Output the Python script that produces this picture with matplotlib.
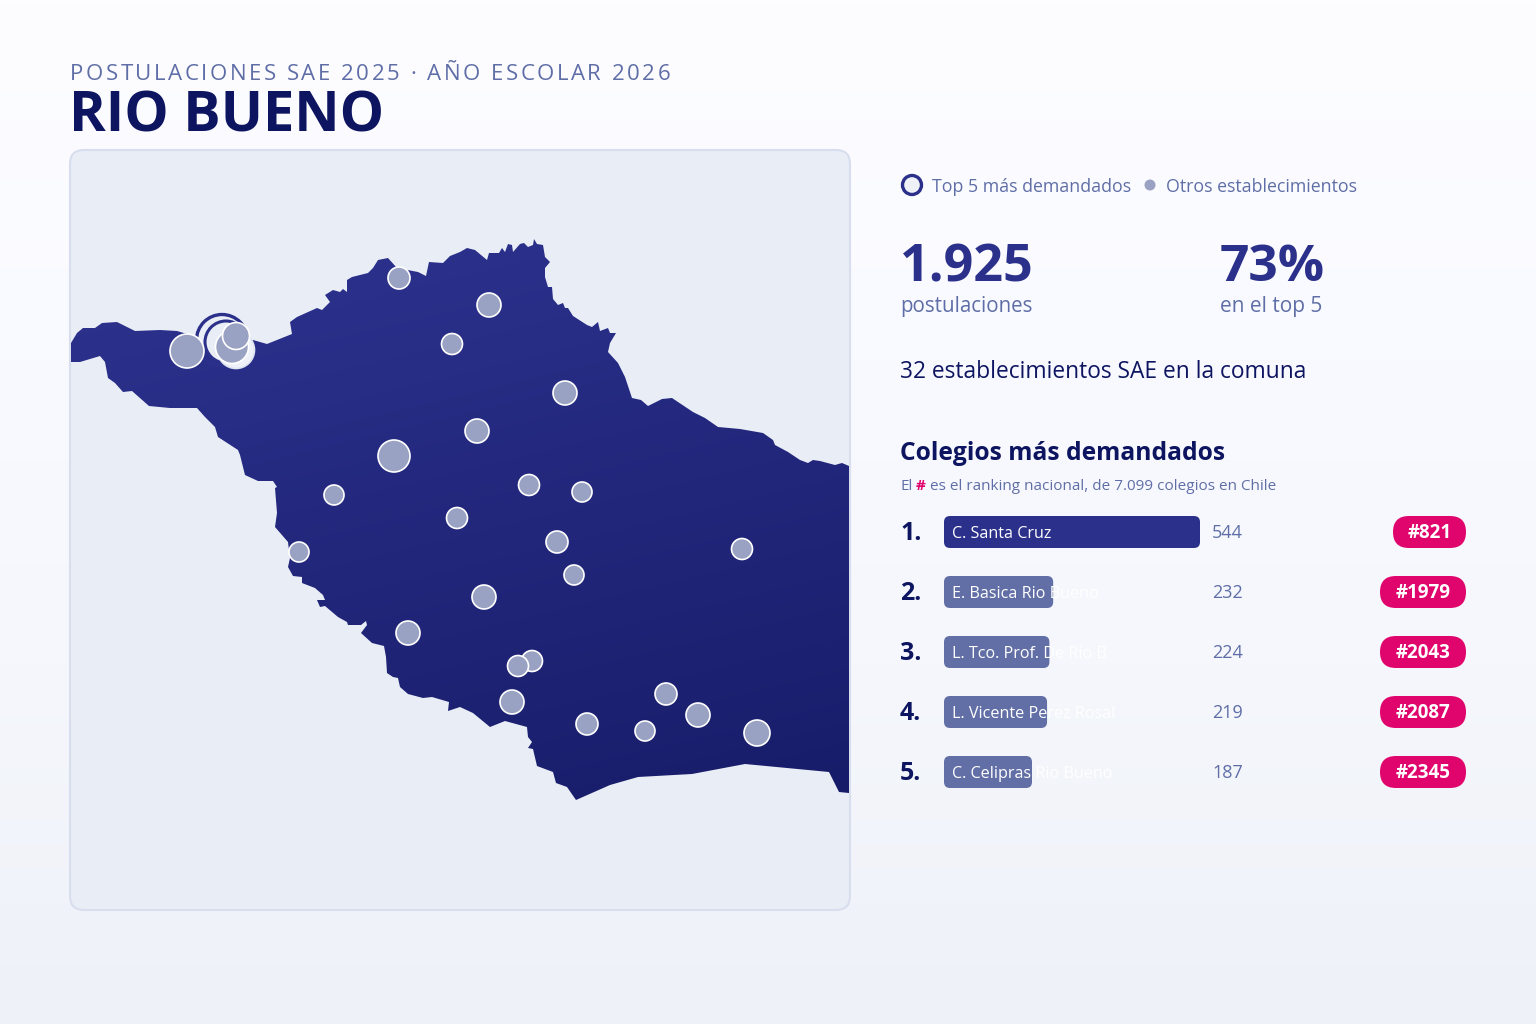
import numpy as np
import matplotlib
matplotlib.use('Agg')
import matplotlib.pyplot as plt
from matplotlib.patches import Circle, FancyBboxPatch, Polygon
from matplotlib.font_manager import FontProperties, findfont, get_font

FONT = 'Open Sans'
plt.rcParams['font.family'] = [FONT, 'DejaVu Sans']

NAVY = '#0d1460'
BLUE = '#2b308b'
SLATE = '#5f6ea6'
DOT = '#9aa2c3'
PINK = '#e0056c'

# comuna outline (pixels of the 1536x1024 image)
outline_x = [71, 77, 83, 95, 102, 117, 125, 135, 160, 177, 187, 200, 253, 267, 292, 290, 297, 317, 322, 330,
             325, 333, 340, 343, 347, 347, 352, 368, 373, 378, 388, 397, 418, 426, 429, 443, 450, 460, 467, 475,
             487, 489, 499, 502, 505, 508, 512, 513, 520, 524, 528, 533, 534, 537, 543, 545, 550, 545, 545, 548,
             552, 553, 558, 563, 565, 568, 573, 587, 592, 598, 600, 608, 610, 616, 610, 608, 618, 625, 632, 641,
             648, 662, 672, 693, 705, 718, 740, 763, 773, 775, 788, 800, 808, 813, 820, 835, 842, 849,
             849, 839, 829, 745, 692, 638, 610, 576, 567, 556, 553, 537, 533, 528, 532, 528, 527, 505, 490, 473,
             460, 448, 449, 432, 423, 408, 400, 398, 393, 387, 386, 384, 372, 361, 367, 366, 361, 348, 347, 338,
             325, 320, 317, 325, 323, 315, 302, 302, 293, 288, 290, 288, 275, 277, 275, 277, 273, 258, 245, 240,
             238, 218, 215, 205, 197, 170, 149, 132, 123, 115, 108, 105, 100, 80, 71]
outline_y = [343, 333, 328, 328, 323, 322, 326, 331, 330, 331, 334, 345, 340, 344, 334, 322, 317, 308, 310, 302,
             295, 290, 292, 289, 292, 280, 277, 273, 268, 260, 258, 268, 272, 276, 262, 263, 256, 252, 248, 250,
             260, 253, 253, 248, 252, 244, 245, 252, 244, 243, 247, 245, 239, 244, 245, 257, 262, 268, 277, 287,
             287, 299, 305, 303, 308, 308, 316, 325, 327, 322, 331, 328, 333, 333, 343, 352, 363, 377, 398, 400,
             406, 399, 398, 412, 418, 427, 429, 433, 440, 445, 452, 460, 463, 460, 461, 465, 463, 466,
             793, 792, 772, 764, 774, 777, 785, 800, 787, 783, 772, 766, 749, 748, 742, 737, 727, 721, 727, 713,
             707, 711, 702, 697, 698, 694, 687, 678, 677, 673, 657, 646, 643, 633, 625, 621, 625, 625, 622, 617,
             606, 607, 600, 600, 595, 588, 583, 577, 576, 567, 558, 542, 527, 513, 488, 487, 481, 481, 475, 455,
             450, 437, 427, 417, 408, 408, 406, 391, 392, 383, 378, 362, 356, 362, 362]

# other schools: position and radius
school_x = [399, 489, 452, 565, 477, 394, 334, 529, 582, 457, 557, 299, 574, 742, 484, 408, 532, 518, 512, 666,
            587, 645, 698, 757, 187]
school_y = [278, 305, 344, 393, 431, 456, 495, 485, 492, 518, 542, 552, 575, 549, 597, 633, 661, 666, 702, 694,
            724, 731, 715, 733, 351]
school_r = [11, 12, 10.5, 12, 12, 16, 10, 10.5, 10, 10.5, 11, 10, 10, 10.5, 12, 12, 10.5, 10.5, 12, 11,
            11, 10, 12, 13, 17]

# the stacked cluster by the town
ring_x = [222, 226]
ring_y = [340, 342]
ring_r = [25.5, 21]
cluster_x = [232, 236]
cluster_y = [347, 336]
cluster_r = [16.5, 13.5]

ranks = ['1.', '2.', '3.', '4.', '5.']
names = ['C. Santa Cruz', 'E. Basica Rio Bueno', 'L. Tco. Prof. De Rio B', 'L. Vicente Perez Rosal', 'C. Celipras Rio Bueno']
postulaciones = [544, 232, 224, 219, 187]
ranking = ['#821', '#1979', '#2043', '#2087', '#2345']
pill_w = [73, 86, 86, 86, 86]


def spaced_text(ax, x, y, s, size, spacing, color):
    # matplotlib has no letter spacing, so place the glyphs one by one
    fp = FontProperties(family=FONT)
    font = get_font(findfont(fp))
    font.set_size(size, 100)
    for ch in s:
        ax.text(x, y, ch, fontsize=size, color=color, va='baseline', ha='left')
        adv = font.load_char(ord(ch), flags=2).linearHoriAdvance / 65536
        x += adv + spacing


def label(x, y, s, size, color, weight='normal', **kw):
    ax.text(x, y, s, fontsize=size, color=color, fontweight=weight, va='baseline', ha='left', **kw)


fig = plt.figure(figsize=(15.36, 10.24), dpi=100)
ax = fig.add_axes([0, 0, 1, 1])
ax.set_xlim(0, 1536)
ax.set_ylim(1024, 0)
ax.axis('off')

# page background
stops = np.array([[0xfd, 0xfd, 0xff], [0xf9, 0xfa, 0xff], [0xf5, 0xf7, 0xfc], [0xee, 0xf1, 0xf8]]) / 255
grad_y = np.linspace(0, 1, 256)
bg = np.stack([np.interp(grad_y, [0, 0.35, 0.65, 1], stops[:, i]) for i in range(3)], axis=1)[:, None, :]
ax.imshow(bg, extent=[0, 1536, 1024, 0], aspect='auto', zorder=0)

# map panel
panel = FancyBboxPatch((70, 150), 780, 760, boxstyle='round,pad=0,rounding_size=14',
                       fc='#e9edf6', ec='#d9deee', lw=1.5, zorder=1)
ax.add_patch(panel)

# comuna with its gradient
land = Polygon(np.column_stack([outline_x, outline_y]), closed=True, fc='none', ec='none', zorder=2)
ax.add_patch(land)
gy, gx = np.mgrid[0:1:200j, 0:1:200j]
t = np.clip(0.75 * gy + 0.25 * gx, 0, 1)[..., None]
land_rgb = (1 - t) * np.array([0x2e, 0x33, 0x90]) / 255 + t * np.array([0x17, 0x1c, 0x69]) / 255
im = ax.imshow(land_rgb, extent=[70, 850, 800, 239], aspect='auto', zorder=2)
im.set_clip_path(land)
ax.set_xlim(0, 1536)
ax.set_ylim(1024, 0)

# other schools
for x, y, r in zip(school_x, school_y, school_r):
    ax.add_patch(Circle((x, y), r, fc=DOT, ec='white', lw=1.2, zorder=5))

# top 5 cluster
ax.add_patch(Circle((ring_x[0], ring_y[0]), ring_r[0], fc='none', ec=BLUE, lw=2.4, zorder=3))
ax.add_patch(Circle((ring_x[1], ring_y[1]), ring_r[1], fc='#e9edf6', ec=BLUE, lw=2.2, zorder=3))
ax.add_patch(Circle((236, 350), 18.5, fc='#eef1f8', ec='#dfe4f1', lw=1.2, zorder=4))
for x, y, r in zip(cluster_x, cluster_y, cluster_r):
    ax.add_patch(Circle((x, y), r, fc=DOT, ec='white', lw=1.2, zorder=6))

# header
spaced_text(ax, 70, 80, 'POSTULACIONES SAE 2025 · AÑO ESCOLAR 2026', 16, 2.5, SLATE)
label(69, 132, 'RIO BUENO', 40.2, NAVY, 'bold')

# legend
ax.add_patch(Circle((912, 185), 9.5, fc='#eef1f8', ec=BLUE, lw=2.4, zorder=3))
label(932, 192, 'Top 5 más demandados', 12.8, SLATE)
ax.add_patch(Circle((1150, 185), 5.5, fc=DOT, ec='none', zorder=3))
label(1166, 192, 'Otros establecimientos', 12.8, SLATE)

# big numbers
label(900, 281, '1.925', 37.5, BLUE, 'bold')
label(900, 312, 'postulaciones', 14.8, SLATE)
label(1220, 281, '73%', 37, BLUE, 'bold')
label(1220, 312, 'en el top 5', 15, SLATE)
label(900, 378, '32 establecimientos SAE en la comuna', 16.35, NAVY)

label(900, 460, 'Colegios más demandados', 17.7, NAVY, 'bold')
label(900, 490, 'El', 11, SLATE)
label(916, 490, '#', 11, PINK, 'bold')
label(930, 490, 'es el ranking nacional, de 7.099 colegios en Chile', 11, SLATE)

# bars: 256 px for the largest value, one row every 60 px
bar_ax = fig.add_axes([944 / 1536, 1 - 802 / 1024, 256 / 1536, 300 / 1024])
bar_ax.set_xlim(0, max(postulaciones))
bar_ax.set_ylim(4.5, -0.5)
bar_ax.axis('off')
bar_ax.patch.set_alpha(0)
units_x = max(postulaciones) / 256
units_y = 1 / 60
for i, v in enumerate(postulaciones):
    color = BLUE if i == 0 else '#626fa6'
    bar_ax.add_patch(FancyBboxPatch((0, i - 16 * units_y), v, 32 * units_y,
                                    boxstyle=f'round,pad=0,rounding_size={6 * units_x}',
                                    mutation_aspect=units_y / units_x, fc=color, ec='none', clip_on=False))
    bar_ax.text(8 * units_x, i + 6 * units_y, names[i], fontsize=11.6, color='white', va='baseline', ha='left', clip_on=False)

row_y = [532 + 60 * i for i in range(len(ranks))]
for i, y in enumerate(row_y):
    label(900, y + 8, ranks[i], 18, NAVY, 'bold')
    label(1212, y + 6, str(postulaciones[i]), 13, SLATE)
    w = pill_w[i]
    ax.add_patch(FancyBboxPatch((1466 - w, y - 16), w, 32, boxstyle='round,pad=0,rounding_size=16',
                                fc=PINK, ec='none', zorder=3))
    ax.text(1466 - w / 2, y + 6, ranking[i], fontsize=13.5, fontweight='bold', color='white',
            va='baseline', ha='center', zorder=4)

fig.savefig('out.png', dpi=100)
